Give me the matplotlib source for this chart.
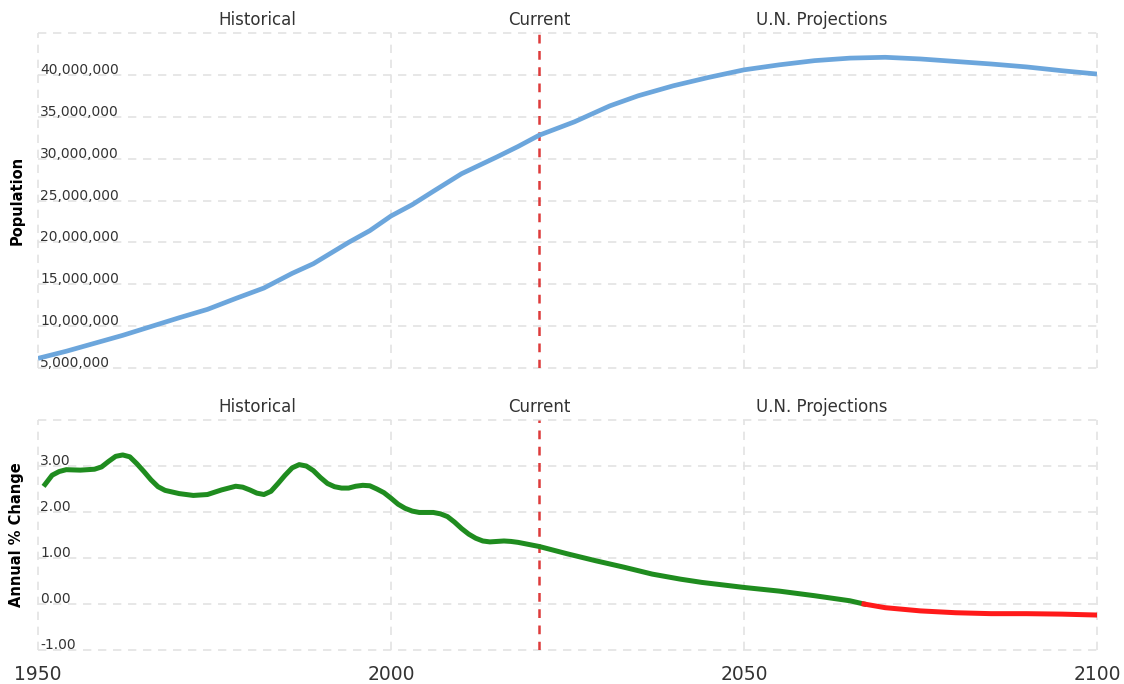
import matplotlib
matplotlib.use("Agg")
import matplotlib.pyplot as plt
import numpy as np

# ---- data ----
pop_years = [1950, 1954, 1958, 1962, 1966, 1970, 1974, 1978, 1982, 1986, 1989,
             1994, 1997, 2000, 2003, 2006, 2010, 2015, 2018, 2021, 2026, 2031,
             2035, 2040, 2045, 2050, 2055, 2060, 2065, 2070, 2075, 2080, 2085,
             2090, 2095, 2100]
pop_values = [6.15e6, 7.0e6, 7.95e6, 8.9e6, 9.95e6, 11.0e6, 12.0e6, 13.3e6, 14.55e6, 16.3e6, 17.45e6,
              20.0e6, 21.4e6, 23.15e6, 24.5e6, 26.1e6, 28.2e6, 30.2e6, 31.45e6, 32.8e6, 34.4e6, 36.3e6,
              37.5e6, 38.7e6, 39.7e6, 40.6e6, 41.2e6, 41.7e6, 42.0e6, 42.1e6, 41.9e6, 41.6e6, 41.3e6,
              40.95e6, 40.5e6, 40.1e6]

chg_years = [1951, 1952, 1953, 1954, 1956, 1958, 1959, 1960, 1961, 1962, 1963, 1964,
             1965, 1966, 1967, 1968, 1970, 1972, 1974, 1976, 1978, 1979, 1980, 1981,
             1982, 1983, 1984, 1985, 1986, 1987, 1988, 1989, 1990, 1991, 1992, 1993,
             1994, 1995, 1996, 1997, 1998, 1999, 2000, 2001, 2002, 2003, 2004, 2005,
             2006, 2007, 2008, 2009, 2010, 2011, 2012, 2013, 2014, 2015, 2016, 2017,
             2018, 2019, 2020, 2021, 2025, 2029, 2033, 2037, 2041, 2044, 2050, 2055,
             2060, 2065, 2067, 2070, 2075, 2080, 2085, 2090, 2095, 2100]
chg_values = [2.60, 2.80, 2.88, 2.92, 2.91, 2.93, 2.98, 3.10, 3.21, 3.24, 3.20, 3.05,
              2.88, 2.70, 2.55, 2.47, 2.40, 2.36, 2.38, 2.48, 2.56, 2.54, 2.48, 2.41,
              2.38, 2.45, 2.62, 2.80, 2.96, 3.03, 3.00, 2.90, 2.75, 2.62, 2.55, 2.52,
              2.52, 2.56, 2.58, 2.57, 2.50, 2.42, 2.30, 2.17, 2.08, 2.02, 1.99, 1.99,
              1.99, 1.96, 1.90, 1.78, 1.64, 1.52, 1.43, 1.37, 1.35, 1.36, 1.37, 1.36,
              1.34, 1.31, 1.28, 1.25, 1.09, 0.94, 0.80, 0.65, 0.54, 0.47, 0.36, 0.28,
              0.18, 0.07, 0.00, -0.08, -0.15, -0.19, -0.21, -0.21, -0.22, -0.24]

pop_ticks = [5e6, 10e6, 15e6, 20e6, 25e6, 30e6, 35e6, 40e6]
chg_ticks = [-1, 0, 1, 2, 3]
x_ticks = [1950, 2000, 2050, 2100]
current_year = 2021
section_labels = ["Historical", "Current", "U.N. Projections"]
section_x = [1981, 2021, 2061]

# ---- style ----
GRID = "#e3e3e3"
TXT = "#333333"
plt.rcParams['font.family'] = ['DejaVu Sans']

fig = plt.figure(figsize=(11.24, 6.84), dpi=100)
W, H = 1124, 684
left = 38 / W
width = (1097 - 38) / W
ax1 = fig.add_axes([left, 1 - 368 / H, width, (368 - 33) / H])
ax2 = fig.add_axes([left, 1 - 650 / H, width, (650 - 420) / H])


def style(ax, ylim, grid_levels):
    ax.set_xlim(1950, 2100)
    ax.set_ylim(*ylim)
    for s in ax.spines.values():
        s.set_visible(False)
    ax.set_xticks([])
    ax.set_yticks([])
    for g in grid_levels:
        ax.axhline(g, color=GRID, lw=1.2, dashes=(5, 4), zorder=0, clip_on=False)
    for xv in x_ticks:
        ax.axvline(xv, color=GRID, lw=1.2, dashes=(5, 4), zorder=0, clip_on=False)
    ax.axvline(current_year, color="#dd3b3b", lw=1.8, dashes=(3.5, 3), zorder=1)
    for lab, xv in zip(section_labels, section_x):
        ax.annotate(lab, xy=(xv, 1), xycoords=("data", "axes fraction"),
                    xytext=(0, 13), textcoords="offset pixels",
                    ha="center", va="center", fontsize=12, color=TXT)


# ---- top panel ----
style(ax1, (5e6, 45e6), pop_ticks + [45e6])
ax1.plot(pop_years, pop_values, color="#6CA6DC", lw=3.4, solid_capstyle="butt", zorder=3)
for t in pop_ticks:
    ax1.annotate(f"{int(t):,}", xy=(1950, t), xytext=(2, 5), textcoords="offset pixels",
                 ha="left", va="center", fontsize=10, color=TXT, zorder=2)

# ---- bottom panel ----
style(ax2, (-1, 4), chg_ticks + [4])
cy = np.array(chg_values)
cx = np.array(chg_years)
ax2.plot(cx, np.ma.masked_where(cy < 0, cy), color="#1f8c1f", lw=3.6, zorder=3)
ax2.plot(cx, np.ma.masked_where(cy > 0, cy), color="#ff1a1a", lw=3.6, zorder=3)
for t in chg_ticks:
    ax2.annotate(f"{t:.2f}", xy=(1950, t), xytext=(2, 5), textcoords="offset pixels",
                 ha="left", va="center", fontsize=10, color=TXT, zorder=2)
for xv in x_ticks:
    ax2.annotate(str(xv), xy=(xv, 0), xycoords=("data", "axes fraction"),
                 xytext=(0, -25), textcoords="offset pixels",
                 ha="center", va="center", fontsize=13.5, color=TXT)

fig.text(17 / W, 1 - 200 / H, "Population", rotation=90, ha="center", va="center",
         fontsize=10.5, fontweight="bold", color="black")
fig.text(17 / W, 1 - 535 / H, "Annual % Change", rotation=90, ha="center", va="center",
         fontsize=10.5, fontweight="bold", color="black")

fig.savefig("out.png", dpi=100)
